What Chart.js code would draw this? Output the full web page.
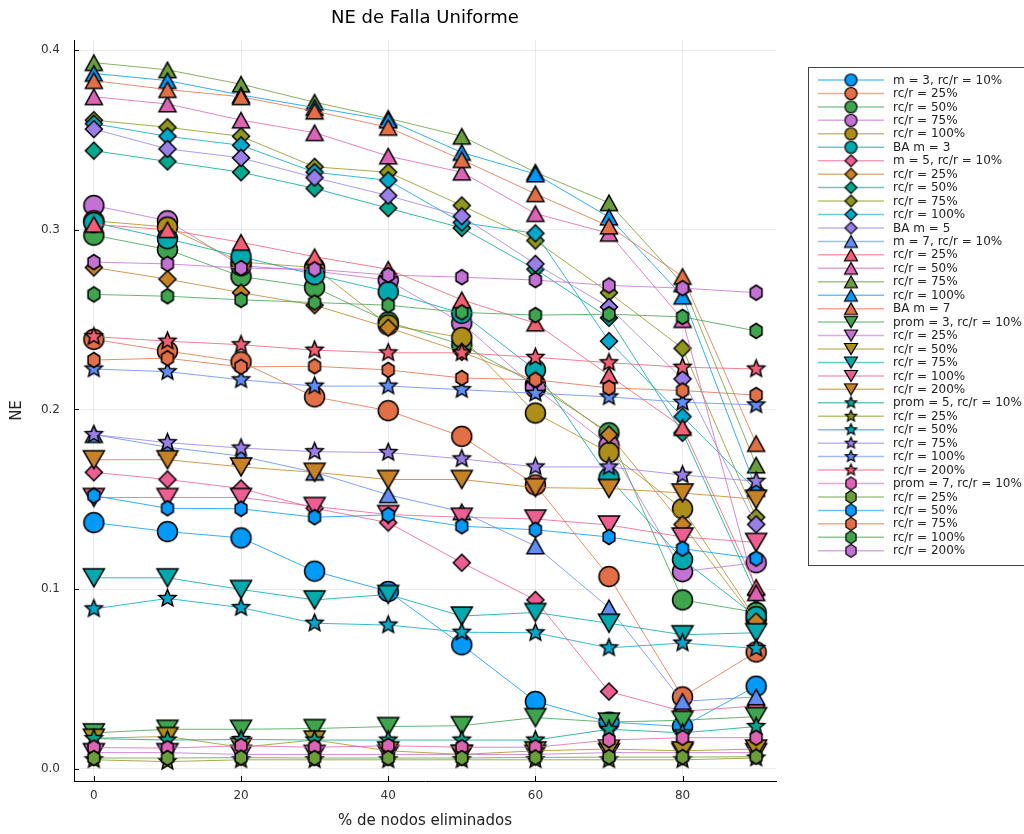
<!DOCTYPE html>
<html>
<head>
<meta charset="utf-8">
<script src="https://cdn.jsdelivr.net/npm/chart.js@4/dist/chart.umd.min.js"></script>
<style>
  body { margin: 0; background: #fff; }
  canvas { display: block; }
</style>
</head>
<body>
<canvas id="graph" width="1024" height="834"></canvas>
<script>
// % de nodos eliminados
const xValues = [0, 10, 20, 30, 40, 50, 60, 70, 80, 90];
const xTicks = [0, 20, 40, 60, 80];
const yTicks = [0.0, 0.1, 0.2, 0.3, 0.4];

// m = 3 (circles)
const m3_10  = [0.137, 0.132, 0.1285, 0.110, 0.0987, 0.069, 0.0375, 0.026, 0.0235, 0.046];
const m3_25  = [0.239, 0.2325, 0.2265, 0.207, 0.1993, 0.185, 0.158, 0.107, 0.040, 0.065];
const m3_50  = [0.297, 0.289, 0.274, 0.268, 0.2487, 0.236, 0.214, 0.187, 0.094, 0.087];
const m3_75  = [0.3135, 0.305, 0.280, 0.277, 0.272, 0.248, 0.212, 0.180, 0.1097, 0.1147];
const m3_100 = [0.305, 0.3015, 0.282, 0.279, 0.247, 0.240, 0.198, 0.176, 0.1447, 0.083];
const ba_m3  = [0.304, 0.295, 0.285, 0.275, 0.2655, 0.2535, 0.222, 0.162, 0.1165, 0.0847];
// m = 5 (diamonds)
const m5_10  = [0.165, 0.161, 0.156, 0.145, 0.137, 0.1147, 0.094, 0.043, 0.032, 0.035];
const m5_25  = [0.279, 0.2725, 0.265, 0.258, 0.2455, 0.232, 0.216, 0.186, 0.136, 0.082];
const m5_50  = [0.344, 0.338, 0.332, 0.323, 0.312, 0.301, 0.278, 0.251, 0.187, 0.097];
const m5_75  = [0.361, 0.357, 0.352, 0.335, 0.332, 0.3135, 0.294, 0.265, 0.234, 0.140];
const m5_100 = [0.359, 0.352, 0.347, 0.332, 0.3275, 0.304, 0.298, 0.238, 0.196, 0.155];
const ba_m5  = [0.356, 0.345, 0.340, 0.329, 0.319, 0.3075, 0.281, 0.257, 0.217, 0.136];
// m = 7 (triangles)
const m7_10  = [0.186, 0.179, 0.174, 0.165, 0.1525, 0.143, 0.124, 0.0896, 0.0375, 0.040];
const m7_25  = [0.303, 0.300, 0.293, 0.285, 0.278, 0.261, 0.248, 0.219, 0.190, 0.101];
const m7_50  = [0.374, 0.370, 0.361, 0.354, 0.341, 0.332, 0.309, 0.298, 0.250, 0.098];
const m7_75  = [0.393, 0.389, 0.381, 0.371, 0.362, 0.352, 0.332, 0.315, 0.270, 0.169];
const m7_100 = [0.387, 0.383, 0.375, 0.368, 0.361, 0.343, 0.331, 0.307, 0.263, 0.156];
const ba_m7  = [0.383, 0.378, 0.374, 0.366, 0.357, 0.339, 0.320, 0.302, 0.274, 0.181];
// prom = 3 (down triangles)
const p3_10  = [0.020, 0.022, 0.022, 0.0224, 0.0235, 0.024, 0.0285, 0.026, 0.027, 0.029];
const p3_25  = [0.009, 0.009, 0.008, 0.008, 0.008, 0.008, 0.008, 0.009, 0.009, 0.009];
const p3_50  = [0.017, 0.018, 0.012, 0.016, 0.010, 0.008, 0.010, 0.011, 0.010, 0.011];
const p3_75  = [0.1063, 0.1063, 0.0998, 0.094, 0.097, 0.085, 0.087, 0.081, 0.0746, 0.0757];
const p3_100 = [0.151, 0.151, 0.151, 0.146, 0.1415, 0.140, 0.139, 0.1357, 0.129, 0.126];
const p3_200 = [0.172, 0.172, 0.168, 0.165, 0.161, 0.161, 0.1565, 0.156, 0.1535, 0.150];
// prom = 5 (stars)
const p5_10  = [0.0168, 0.016, 0.0163, 0.016, 0.016, 0.016, 0.016, 0.022, 0.020, 0.0235];
const p5_25  = [0.005, 0.004, 0.005, 0.005, 0.005, 0.005, 0.005, 0.005, 0.005, 0.006];
const p5_50  = [0.089, 0.0948, 0.0897, 0.081, 0.080, 0.076, 0.0757, 0.0673, 0.070, 0.067];
const p5_75  = [0.186, 0.1815, 0.1785, 0.1765, 0.176, 0.1725, 0.168, 0.168, 0.1635, 0.160];
const p5_100 = [0.2225, 0.221, 0.2165, 0.213, 0.213, 0.211, 0.209, 0.207, 0.204, 0.2025];
const p5_200 = [0.2405, 0.238, 0.236, 0.233, 0.2315, 0.2315, 0.229, 0.226, 0.2235, 0.2225];
// prom = 7 (hexagons)
const p7_10  = [0.0118, 0.0115, 0.0128, 0.012, 0.0128, 0.012, 0.012, 0.016, 0.0173, 0.0173];
const p7_25  = [0.006, 0.006, 0.0062, 0.006, 0.006, 0.006, 0.0063, 0.0065, 0.0065, 0.0067];
const p7_50  = [0.152, 0.145, 0.1447, 0.140, 0.1413, 0.135, 0.133, 0.129, 0.1225, 0.117];
const p7_75  = [0.2275, 0.2285, 0.2237, 0.224, 0.222, 0.2175, 0.2165, 0.212, 0.2105, 0.208];
const p7_100 = [0.264, 0.263, 0.261, 0.2595, 0.258, 0.254, 0.2525, 0.253, 0.2515, 0.2437];
const p7_200 = [0.282, 0.281, 0.2787, 0.278, 0.2748, 0.2736, 0.272, 0.269, 0.2675, 0.265];

const seriesData = [
  m3_10, m3_25, m3_50, m3_75, m3_100, ba_m3,
  m5_10, m5_25, m5_50, m5_75, m5_100, ba_m5,
  m7_10, m7_25, m7_50, m7_75, m7_100, ba_m7,
  p3_10, p3_25, p3_50, p3_75, p3_100, p3_200,
  p5_10, p5_25, p5_50, p5_75, p5_100, p5_200,
  p7_10, p7_25, p7_50, p7_75, p7_100, p7_200,
];
const seriesLabels = [
  "m = 3, rc/r = 10%", "rc/r = 25%", "rc/r = 50%", "rc/r = 75%", "rc/r = 100%", "BA m = 3",
  "m = 5, rc/r = 10%", "rc/r = 25%", "rc/r = 50%", "rc/r = 75%", "rc/r = 100%", "BA m = 5",
  "m = 7, rc/r = 10%", "rc/r = 25%", "rc/r = 50%", "rc/r = 75%", "rc/r = 100%", "BA m = 7",
  "prom = 3, rc/r = 10%", "rc/r = 25%", "rc/r = 50%", "rc/r = 75%", "rc/r = 100%", "rc/r = 200%",
  "prom = 5, rc/r = 10%", "rc/r = 25%", "rc/r = 50%", "rc/r = 75%", "rc/r = 100%", "rc/r = 200%",
  "prom = 7, rc/r = 10%", "rc/r = 25%", "rc/r = 50%", "rc/r = 75%", "rc/r = 100%", "rc/r = 200%",
];

// default Plots.jl palette
const palette = ["#009AFA", "#E36F47", "#3EA44E", "#C371D2", "#AC8E18", "#00A9AD",
  "#ED5E93", "#C68225", "#00A98D", "#8E971E", "#00A8CB", "#9B7FE9",
  "#618DF6", "#F05F73", "#DD64B5", "#6B9D3A"];
const shapes = ["circle", "diamond", "utri", "dtri", "star", "hex"];

function hexToRgba(hex, a) {
  const n = parseInt(hex.slice(1), 16);
  return `rgba(${(n >> 16) & 255}, ${(n >> 8) & 255}, ${n & 255}, ${a})`;
}

// marker sizes (px) for plot and legend
const plotSize = { circle: 20, diamond: 17, utri: 17, dtri: 21, star: 18, hex: 15 };
const legendSize = { circle: 12, diamond: 12, utri: 13, dtri: 13, star: 12, hex: 13 };

function makeMarker(shape, color, s, lw) {
  const c = document.createElement("canvas");
  const size = Math.ceil(s + lw * 2 + 2);
  c.width = size;
  c.height = size;
  const g = c.getContext("2d");
  const cx = size / 2, cy = size / 2, r = s / 2;
  g.beginPath();
  if (shape === "circle") {
    g.arc(cx, cy, r, 0, Math.PI * 2);
  } else if (shape === "diamond") {
    g.moveTo(cx, cy - r); g.lineTo(cx + r, cy); g.lineTo(cx, cy + r); g.lineTo(cx - r, cy);
  } else if (shape === "utri") {
    const h = s * 0.9;
    g.moveTo(cx, cy - h / 2); g.lineTo(cx + r, cy + h / 2); g.lineTo(cx - r, cy + h / 2);
  } else if (shape === "dtri") {
    const h = s * 0.85;
    g.moveTo(cx - r, cy - h / 2); g.lineTo(cx + r, cy - h / 2); g.lineTo(cx, cy + h / 2);
  } else if (shape === "star") {
    for (let k = 0; k < 10; k++) {
      const rad = k % 2 === 0 ? r : r * 0.45;
      const a = -Math.PI / 2 + k * Math.PI / 5;
      const px = cx + rad * Math.cos(a), py = cy + rad * Math.sin(a);
      if (k === 0) g.moveTo(px, py); else g.lineTo(px, py);
    }
  } else if (shape === "hex") {
    for (let k = 0; k < 6; k++) {
      const a = -Math.PI / 2 + k * Math.PI / 3;
      const px = cx + r * 0.9 * Math.cos(a), py = cy + r * Math.sin(a);
      if (k === 0) g.moveTo(px, py); else g.lineTo(px, py);
    }
  }
  g.closePath();
  g.fillStyle = color;
  g.fill();
  g.lineWidth = lw;
  g.strokeStyle = "#000";
  g.lineJoin = "miter";
  g.stroke();
  return c;
}

const N = seriesData.length;
const series = seriesData.map((vals, i) => {
  const shape = shapes[Math.floor(i / 6)];
  const color = palette[i % palette.length];
  return {
    label: seriesLabels[i],
    color,
    shape,
    marker: makeMarker(shape, color, plotSize[shape], 1.5),
    legendMarker: makeMarker(shape, color, legendSize[shape], 1.2),
    data: vals.map((v, j) => ({ x: xValues[j], y: v })),
  };
});

const datasets = series.map((s, i) => ({
  label: s.label,
  data: s.data,
  borderColor: hexToRgba(s.color, 0.8),
  backgroundColor: s.color,
  borderWidth: 1,
  pointStyle: s.marker,
  pointRadius: 10,
  tension: 0,
  fill: false,
  order: N - i,
}));

const FONT = "'DejaVu Sans', sans-serif";

// title, plot-side tick marks and outside legend
const decorPlugin = {
  id: "decor",
  beforeDatasetsDraw(chart) {
    const { ctx, chartArea, scales } = chart;
    ctx.save();
    ctx.strokeStyle = "#000";
    ctx.lineWidth = 1;
    xTicks.forEach(v => {
      const px = Math.round(scales.x.getPixelForValue(v)) + 0.5;
      ctx.beginPath(); ctx.moveTo(px, chartArea.bottom); ctx.lineTo(px, chartArea.bottom - 5); ctx.stroke();
    });
    yTicks.forEach(v => {
      const py = Math.round(scales.y.getPixelForValue(v)) + 0.5;
      ctx.beginPath(); ctx.moveTo(chartArea.left, py); ctx.lineTo(chartArea.left + 5, py); ctx.stroke();
    });
    ctx.restore();
  },
  afterDraw(chart) {
    const { ctx, chartArea } = chart;
    ctx.save();
    ctx.fillStyle = "#000";
    ctx.font = "18px " + FONT;
    ctx.textAlign = "center";
    ctx.textBaseline = "middle";
    ctx.fillText("NE de Falla Uniforme", (chartArea.left + chartArea.right) / 2, 18);

    // legend box
    const lx = 808, ly = 67, lw = 230, lh = 498;
    ctx.fillStyle = "#fff";
    ctx.fillRect(lx, ly, lw, lh);
    ctx.strokeStyle = "#444";
    ctx.lineWidth = 1;
    ctx.strokeRect(lx + 0.5, ly + 0.5, lw, lh);
    ctx.font = "12px " + FONT;
    ctx.textAlign = "left";
    series.forEach((s, i) => {
      const y = 80 + i * 13.45;
      ctx.strokeStyle = hexToRgba(s.color, 0.6);
      ctx.lineWidth = 1.5;
      ctx.beginPath(); ctx.moveTo(818, y); ctx.lineTo(884, y); ctx.stroke();
      const m = s.legendMarker;
      ctx.drawImage(m, 851 - m.width / 2, y - m.height / 2);
      ctx.fillStyle = "#222";
      ctx.fillText(s.label, 893, y + 0.5);
    });
    ctx.restore();
  },
};

new Chart(document.getElementById("graph"), {
  type: "line",
  data: { datasets },
  options: {
    responsive: false,
    animation: false,
    events: [],
    layout: { padding: { left: 0, right: 248, top: 40, bottom: 0 } },
    plugins: { legend: { display: false }, title: { display: false }, tooltip: { enabled: false } },
    scales: {
      x: {
        type: "linear",
        min: -2.7,
        max: 92.7,
        afterBuildTicks: scale => { scale.ticks = xTicks.map(v => ({ value: v })); },
        afterFit: scale => { scale.height = 53; },
        ticks: { color: "#333", font: { family: FONT, size: 12 }, padding: 8, callback: v => String(v) },
        grid: { color: "rgba(0,0,0,0.08)", lineWidth: 1, drawTicks: false },
        border: { display: true, color: "#000", width: 1 },
        title: { display: true, text: "% de nodos eliminados", color: "#222", font: { family: FONT, size: 15 } },
      },
      y: {
        type: "linear",
        min: -0.0068,
        max: 0.4056,
        afterBuildTicks: scale => { scale.ticks = yTicks.map(v => ({ value: v })); },
        afterFit: scale => { scale.width = 74; },
        ticks: { color: "#333", font: { family: FONT, size: 12 }, padding: 14, callback: v => v.toFixed(1) },
        grid: { color: "rgba(0,0,0,0.08)", lineWidth: 1, drawTicks: false },
        border: { display: true, color: "#000", width: 1 },
        title: { display: true, text: "NE", color: "#222", font: { family: FONT, size: 15 }, padding: { top: 8, bottom: 4 } },
      },
    },
  },
  plugins: [decorPlugin],
});
</script>
</body>
</html>
